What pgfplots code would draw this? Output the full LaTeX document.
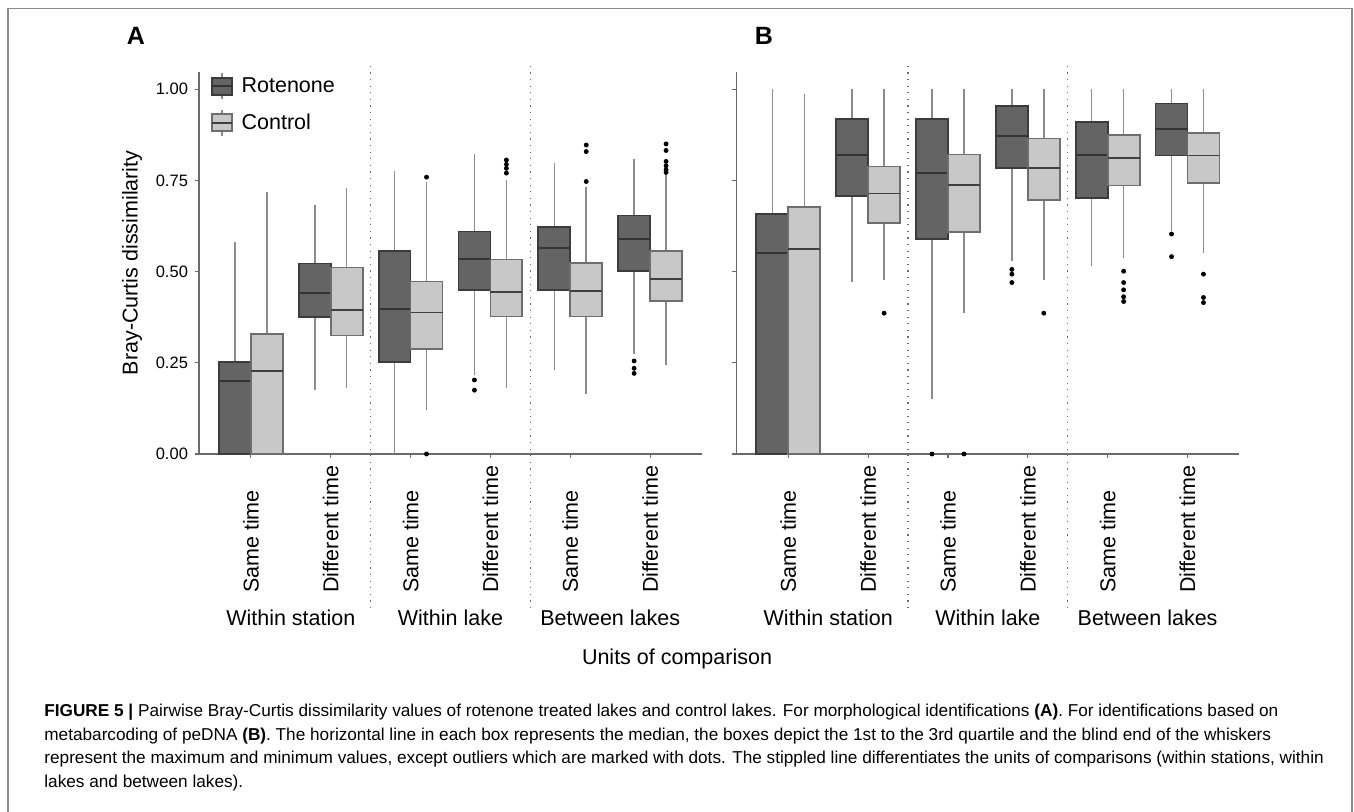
\documentclass[border=0pt]{standalone}
\usepackage{pgfplots}
\pgfplotsset{compat=1.18}
\usepgfplotslibrary{statistics}
\usepackage{fontspec}
\setmainfont{Liberation Sans}
\definecolor{rotfill}{HTML}{646464}
\definecolor{rotdraw}{HTML}{3C3C3C}
\definecolor{rotmed}{HTML}{333333}
\definecolor{ctlfill}{HTML}{C8C8C8}
\definecolor{ctldraw}{HTML}{6E6E6E}
\definecolor{ctlmed}{HTML}{404040}
\definecolor{whisk}{HTML}{8C8C8C}
\definecolor{axisgray}{HTML}{6A6A6A}
\definecolor{framegray}{HTML}{8C8C8C}
\newcommand{\lblfont}{\fontsize{10.75}{12}\selectfont}
\newcommand{\tickfont}{\fontsize{8.25}{10}\selectfont}
\newcommand{\capfont}{\fontsize{8.6}{10}\selectfont}
\pgfplotsset{
  rot/.style={boxplot/draw direction=y,
    boxplot/every box/.style={draw=rotdraw, fill=rotfill, line width=0.9pt},
    boxplot/every median/.style={draw=rotmed, line width=1pt},
    boxplot/every whisker/.style={draw=whisk, line width=0.75pt},
    boxplot/whisker extend=0},
  ctl/.style={boxplot/draw direction=y,
    boxplot/every box/.style={draw=ctldraw, fill=ctlfill, line width=0.9pt},
    boxplot/every median/.style={draw=ctlmed, line width=0.9pt},
    boxplot/every whisker/.style={draw=whisk, line width=0.75pt},
    boxplot/whisker extend=0},
  outl/.style={only marks, mark=*, mark size=1pt, black, mark options={fill=black, draw=black}},
  myaxis/.style={
    scale only axis, width=251.5pt, height=191.15pt,
    xmin=0.35, xmax=6.65, ymin=0, ymax=1.048,
    axis x line*=bottom, axis y line*=left,
    axis line style={draw=axisgray, line width=0.6pt, -},
    xtick={1,2,3,4,5,6},
    xticklabels={Same time, Different time, Same time, Different time, Same time, Different time},
    xticklabel style={rotate=90, anchor=west, font=\lblfont},
    xticklabel shift=71pt,
    ytick={0,0.25,0.5,0.75,1},
    tick align=outside, major tick length=2pt,
    tick style={draw=axisgray, line width=0.6pt},
    /pgf/number format/assume math mode=true,
    yticklabel style={font=\tickfont},
    clip=false,
  }
}
\begin{document}
\begin{tikzpicture}
\useasboundingbox (0pt,0pt) rectangle (677pt,406pt);
\draw[framegray, line width=0.75pt] (4pt,0pt) -- (4pt,401.75pt) -- (676pt,401.75pt) -- (676pt,0pt);
\node[font=\bfseries\fontsize{12.5}{15}\selectfont, anchor=base] at (68pt,383.85pt) {A};
\node[font=\bfseries\fontsize{12.5}{15}\selectfont, anchor=base] at (382pt,383.85pt) {B};

% ---------------- Panel A ----------------
\begin{axis}[myaxis, at={(99.5pt,179pt)}, anchor=south west,
  yticklabels={0.00,0.25,0.50,0.75,1.00},
  ylabel={Bray-Curtis dissimilarity},
  every axis y label/.style={at={(rel axis cs:0,0.5)}, xshift=-33.5pt, rotate=90, anchor=center, font=\lblfont},
  legend style={at={(rel axis cs:0.0233,1.011)}, anchor=north west, draw=none, fill=none,
    inner sep=0pt, row sep=0pt, column sep=0pt, font=\lblfont, nodes={inner sep=0pt}},
  legend cell align=left]
\addlegendimage{legend image code/.code={
  \path[draw=none, fill=none] (0pt,-9.15pt) rectangle (14.8pt,9.15pt);
  \draw[whisk, line width=0.75pt] (5pt,4.25pt) -- (5pt,6.5pt) (5pt,-4.25pt) -- (5pt,-6.5pt);
  \draw[draw=rotdraw, fill=rotfill, line width=0.9pt] (0pt,-4.25pt) rectangle (10pt,4.25pt);
  \draw[rotmed, line width=0.9pt] (0pt,0pt) -- (10pt,0pt);}}
\addlegendentry{Rotenone}
\addlegendimage{legend image code/.code={
  \path[draw=none, fill=none] (0pt,-9.15pt) rectangle (14.8pt,9.15pt);
  \draw[whisk, line width=0.75pt] (5pt,4.25pt) -- (5pt,6.5pt) (5pt,-4.25pt) -- (5pt,-6.5pt);
  \draw[draw=ctldraw, fill=ctlfill, line width=0.9pt] (0pt,-4.25pt) rectangle (10pt,4.25pt);
  \draw[ctlmed, line width=0.9pt] (0pt,0pt) -- (10pt,0pt);}}
\addlegendentry{Control}
% Within station, same time
\addplot[rot, boxplot prepared={lower whisker=0, lower quartile=0, median=0.200, upper quartile=0.253, upper whisker=0.582, draw position=0.8, box extend=0.4}] coordinates {};
\addplot[ctl, boxplot prepared={lower whisker=0, lower quartile=0, median=0.228, upper quartile=0.329, upper whisker=0.718, draw position=1.2, box extend=0.4}] coordinates {};
% Within station, different time
\addplot[rot, boxplot prepared={lower whisker=0.176, lower quartile=0.376, median=0.441, upper quartile=0.522, upper whisker=0.683, draw position=1.8, box extend=0.4}] coordinates {};
\addplot[ctl, boxplot prepared={lower whisker=0.180, lower quartile=0.325, median=0.394, upper quartile=0.511, upper whisker=0.729, draw position=2.2, box extend=0.4}] coordinates {};
% Within lake, same time
\addplot[rot, boxplot prepared={lower whisker=0, lower quartile=0.252, median=0.398, upper quartile=0.556, upper whisker=0.776, draw position=2.8, box extend=0.4}] coordinates {};
\addplot[ctl, boxplot prepared={lower whisker=0.121, lower quartile=0.287, median=0.388, upper quartile=0.473, upper whisker=0.745, draw position=3.2, box extend=0.4}] coordinates {};
% Within lake, different time
\addplot[rot, boxplot prepared={lower whisker=0.217, lower quartile=0.449, median=0.535, upper quartile=0.610, upper whisker=0.823, draw position=3.8, box extend=0.4}] coordinates {};
\addplot[ctl, boxplot prepared={lower whisker=0.180, lower quartile=0.377, median=0.443, upper quartile=0.533, upper whisker=0.751, draw position=4.2, box extend=0.4}] coordinates {};
% Between lakes, same time
\addplot[rot, boxplot prepared={lower whisker=0.230, lower quartile=0.450, median=0.565, upper quartile=0.623, upper whisker=0.797, draw position=4.8, box extend=0.4}] coordinates {};
\addplot[ctl, boxplot prepared={lower whisker=0.165, lower quartile=0.377, median=0.447, upper quartile=0.524, upper whisker=0.731, draw position=5.2, box extend=0.4}] coordinates {};
% Between lakes, different time
\addplot[rot, boxplot prepared={lower whisker=0.273, lower quartile=0.501, median=0.588, upper quartile=0.654, upper whisker=0.810, draw position=5.8, box extend=0.4}] coordinates {};
\addplot[ctl, boxplot prepared={lower whisker=0.243, lower quartile=0.419, median=0.479, upper quartile=0.557, upper whisker=0.768, draw position=6.2, box extend=0.4}] coordinates {};
% outliers
\addplot[outl] coordinates {(3.2,0.759) (3.2,0.0)
  (3.8,0.203) (3.8,0.175)
  (4.2,0.770) (4.2,0.783) (4.2,0.794) (4.2,0.806)
  (5.2,0.747) (5.2,0.829) (5.2,0.847)
  (5.8,0.255) (5.8,0.235) (5.8,0.221)
  (6.2,0.772) (6.2,0.779) (6.2,0.790) (6.2,0.802) (6.2,0.832) (6.2,0.850)};
\draw[axisgray, line width=0.6pt, dash pattern=on 0.6pt off 2.7pt] (axis cs:2.5,1.064) -- (axis cs:2.5,-0.436);
\draw[axisgray, line width=0.6pt, dash pattern=on 0.6pt off 2.7pt] (axis cs:4.5,1.064) -- (axis cs:4.5,-0.436);
\node[anchor=base, font=\lblfont] at (axis cs:1.5,-0.469) {Within station};
\node[anchor=base, font=\lblfont] at (axis cs:3.5,-0.469) {Within lake};
\node[anchor=base, font=\lblfont] at (axis cs:5.5,-0.469) {Between lakes};
\end{axis}

% ---------------- Panel B ----------------
\begin{axis}[myaxis, at={(368.2pt,179pt)}, anchor=south west, yticklabels={}]
\addplot[rot, boxplot prepared={lower whisker=0, lower quartile=0, median=0.552, upper quartile=0.658, upper whisker=1.0, draw position=0.8, box extend=0.4}] coordinates {};
\addplot[ctl, boxplot prepared={lower whisker=0, lower quartile=0, median=0.563, upper quartile=0.678, upper whisker=0.986, draw position=1.2, box extend=0.4}] coordinates {};
\addplot[rot, boxplot prepared={lower whisker=0.471, lower quartile=0.707, median=0.819, upper quartile=0.919, upper whisker=1.0, draw position=1.8, box extend=0.4}] coordinates {};
\addplot[ctl, boxplot prepared={lower whisker=0.477, lower quartile=0.633, median=0.714, upper quartile=0.788, upper whisker=1.0, draw position=2.2, box extend=0.4}] coordinates {};
\addplot[rot, boxplot prepared={lower whisker=0.150, lower quartile=0.590, median=0.770, upper quartile=0.919, upper whisker=1.0, draw position=2.8, box extend=0.4}] coordinates {};
\addplot[ctl, boxplot prepared={lower whisker=0.386, lower quartile=0.608, median=0.738, upper quartile=0.821, upper whisker=1.0, draw position=3.2, box extend=0.4}] coordinates {};
\addplot[rot, boxplot prepared={lower whisker=0.530, lower quartile=0.783, median=0.872, upper quartile=0.953, upper whisker=1.0, draw position=3.8, box extend=0.4}] coordinates {};
\addplot[ctl, boxplot prepared={lower whisker=0.477, lower quartile=0.696, median=0.783, upper quartile=0.865, upper whisker=1.0, draw position=4.2, box extend=0.4}] coordinates {};
\addplot[rot, boxplot prepared={lower whisker=0.516, lower quartile=0.702, median=0.820, upper quartile=0.909, upper whisker=1.0, draw position=4.8, box extend=0.4}] coordinates {};
\addplot[ctl, boxplot prepared={lower whisker=0.537, lower quartile=0.736, median=0.811, upper quartile=0.875, upper whisker=1.0, draw position=5.2, box extend=0.4}] coordinates {};
\addplot[rot, boxplot prepared={lower whisker=0.612, lower quartile=0.818, median=0.891, upper quartile=0.961, upper whisker=1.0, draw position=5.8, box extend=0.4}] coordinates {};
\addplot[ctl, boxplot prepared={lower whisker=0.550, lower quartile=0.742, median=0.818, upper quartile=0.879, upper whisker=1.0, draw position=6.2, box extend=0.4}] coordinates {};
\addplot[outl] coordinates {(2.2,0.386)
  (2.8,0.0) (3.2,0.0)
  (3.8,0.506) (3.8,0.493) (3.8,0.470)
  (4.2,0.386)
  (5.2,0.501) (5.2,0.470) (5.2,0.450) (5.2,0.431) (5.2,0.418)
  (5.8,0.603) (5.8,0.541)
  (6.2,0.493) (6.2,0.429) (6.2,0.415)};
\draw[axisgray, line width=0.6pt, dash pattern=on 0.6pt off 2.7pt] (axis cs:2.5,1.064) -- (axis cs:2.5,-0.436);
\draw[axisgray, line width=0.6pt, dash pattern=on 0.6pt off 2.7pt] (axis cs:4.5,1.064) -- (axis cs:4.5,-0.436);
\node[anchor=base, font=\lblfont] at (axis cs:1.5,-0.469) {Within station};
\node[anchor=base, font=\lblfont] at (axis cs:3.5,-0.469) {Within lake};
\node[anchor=base, font=\lblfont] at (axis cs:5.5,-0.469) {Between lakes};
\end{axis}

\node[anchor=base, font=\lblfont] at (338.5pt,73.5pt) {Units of comparison};
\node[anchor=base west, inner sep=0pt, font=\capfont] at (22pt,47.5pt) {\textbf{FIGURE 5 |} Pairwise Bray-Curtis dissimilarity values of rotenone treated lakes and control lakes. For morphological identifications \textbf{(A)}. For identifications based on};
\node[anchor=base west, inner sep=0pt, font=\capfont] at (22pt,35.75pt) {metabarcoding of peDNA \textbf{(B)}. The horizontal line in each box represents the median, the boxes depict the 1st to the 3rd quartile and the blind end of the whiskers};
\node[anchor=base west, inner sep=0pt, font=\capfont] at (22pt,24pt) {represent the maximum and minimum values, except outliers which are marked with dots. The stippled line differentiates the units of comparisons (within stations, within};
\node[anchor=base west, inner sep=0pt, font=\capfont] at (22pt,12.25pt) {lakes and between lakes).};
\end{tikzpicture}
\end{document}
